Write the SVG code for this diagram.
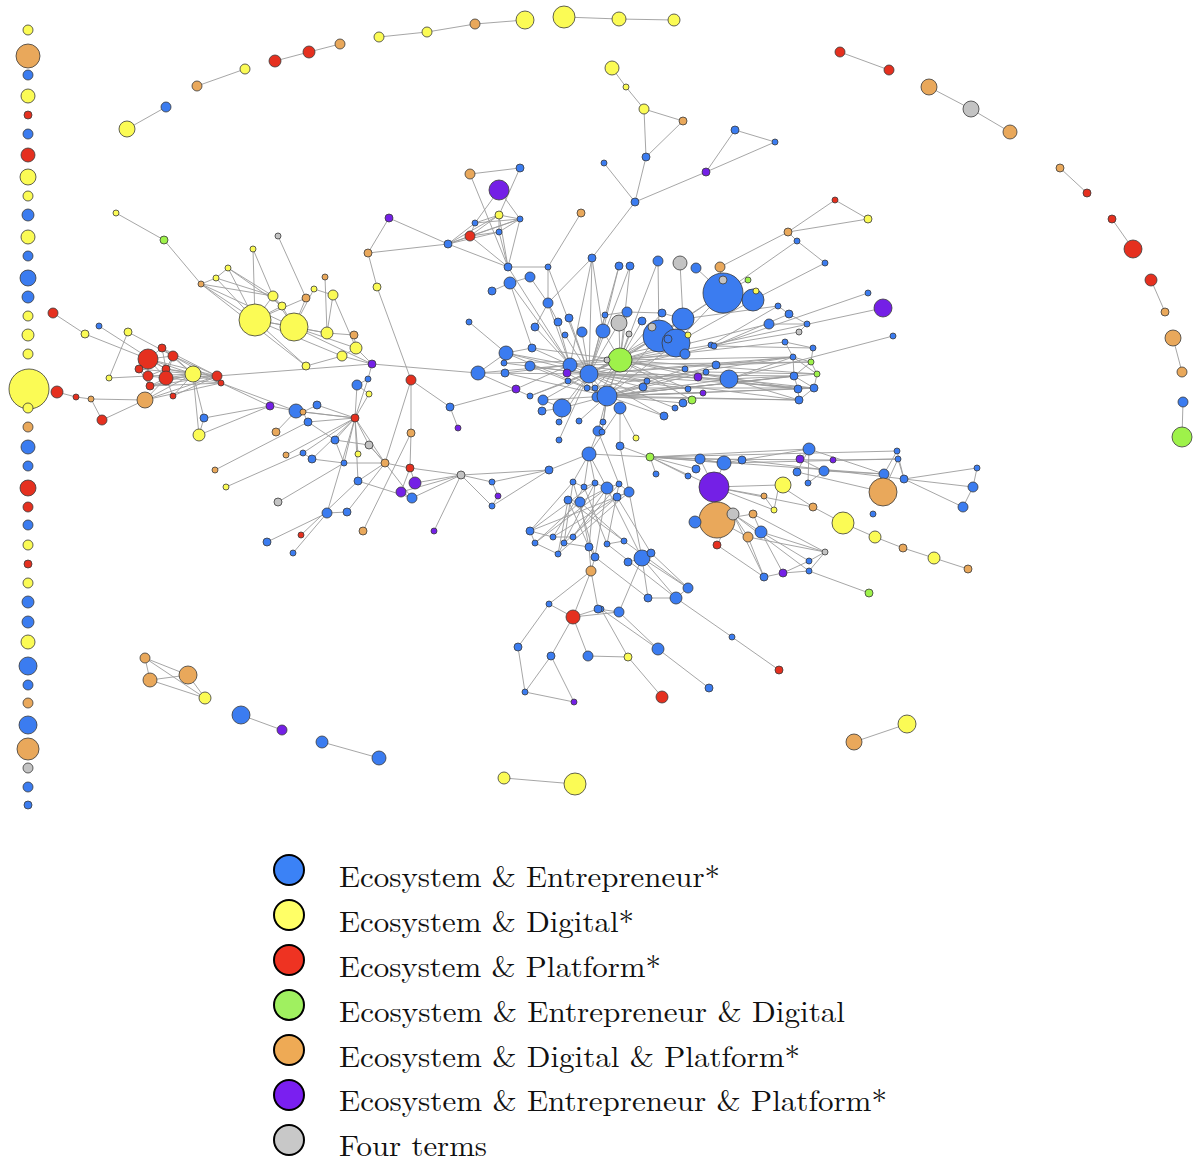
<svg xmlns="http://www.w3.org/2000/svg" width="1198" height="1163" viewBox="0 0 1198 1163">
<style>
  .bg { fill: #ffffff; }
  #connectors path { stroke: #9c9c9c; stroke-width: 0.9; fill: none; }
  #nodes circle { stroke: #3a3a3a; stroke-width: 0.8; }
  .b circle { fill: #3b7cf0; }
  .y circle { fill: #fbfb55; }
  .r circle { fill: #e5301f; }
  .g circle { fill: #9ef24a; }
  .o circle { fill: #e9a85b; }
  .p circle { fill: #7420e6; }
  .a circle { fill: #c3c3c3; }
  #legend circle { stroke: #000; stroke-width: 2; }
  #legend text { font-family: "Latin Modern Roman", "Liberation Serif", "DejaVu Serif", serif; font-size: 29px; fill: #111; }
</style>
<rect class="bg" x="0" y="0" width="1198" height="1163"/>

<g id="connectors">
  <!-- outer ring pairs and chains -->
  <path d="M127 129L166 107"/><path d="M197 86L245 69"/><path d="M275 61L309 52"/><path d="M309 52L340 44"/>
  <path d="M379 37L427 32"/><path d="M427 32L475 24"/><path d="M475 24L525 20"/><path d="M564 17L619 19"/><path d="M619 19L674 20"/>
  <path d="M840 52L889 70"/><path d="M929 87L971 109"/><path d="M971 109L1010 132"/><path d="M1060 168L1087 193"/>
  <path d="M1112 219L1133 249"/><path d="M1151 280L1165 312"/><path d="M1173 338L1182 372"/><path d="M1183 402L1182 437"/>
  <path d="M903 548L934 558"/><path d="M934 558L968 569"/><path d="M854 742L907 724"/>
  <path d="M145 658L188 675"/><path d="M145 658L205 698"/><path d="M150 680L188 675"/><path d="M150 680L205 698"/><path d="M145 658L150 680"/><path d="M188 675L205 698"/>
  <path d="M241 715L282 730"/><path d="M322 742L379 758"/><path d="M504 778L575 784"/>
  <!-- top tree -->
  <path d="M612 68L626 87"/><path d="M626 87L644 109"/><path d="M644 109L683 121"/><path d="M644 109L646 157"/><path d="M683 121L646 157"/>
  <path d="M646 157L635 202"/><path d="M604 163L635 202"/><path d="M735 130L775 142"/><path d="M735 130L706 172"/><path d="M775 142L706 172"/>
  <path d="M706 172L635 202"/><path d="M635 202L592 258"/>
  <path d="M835 200L868 219"/><path d="M835 200L788 232"/><path d="M868 219L788 232"/><path d="M788 232L797 241"/><path d="M797 241L825 263"/>
  <path d="M797 241L723 293"/><path d="M825 263L753 300"/><path d="M788 232L720 267"/>
  <!-- top-middle cluster -->
  <path d="M470 174L520 168"/><path d="M470 174L508 267"/><path d="M520 168L499 215"/><path d="M499 190L520 219"/><path d="M499 190L475 223"/>
  <path d="M499 215L475 223"/><path d="M499 215L520 219"/><path d="M499 215L470 236"/><path d="M499 215L499 232"/><path d="M475 223L520 219"/>
  <path d="M475 223L470 236"/><path d="M470 236L520 219"/><path d="M470 236L499 232"/><path d="M499 232L520 219"/><path d="M448 244L475 223"/>
  <path d="M448 244L499 215"/><path d="M448 244L520 219"/><path d="M448 244L470 236"/><path d="M448 244L499 232"/><path d="M448 244L508 267"/>
  <path d="M520 219L508 267"/><path d="M470 236L508 267"/><path d="M499 232L508 267"/><path d="M499 215L508 267"/>
  <path d="M389 218L448 244"/><path d="M389 218L368 253"/><path d="M368 253L448 244"/><path d="M368 253L377 287"/><path d="M377 287L411 380"/>
  <path d="M508 267L548 267"/><path d="M581 213L548 267"/>
  <!-- upper centre row -->
  <path d="M592 258L589 374"/><path d="M592 258L570 365"/><path d="M592 258L603 331"/><path d="M592 258L548 303"/><path d="M619 266L603 331"/>
  <path d="M630 266L620 360"/><path d="M658 261L620 360"/><path d="M658 261L659 336"/><path d="M680 263L683 319"/><path d="M696 268L723 293"/>
  <path d="M720 267L723 293"/><path d="M723 293L683 319"/><path d="M723 293L659 336"/><path d="M723 293L676 343"/><path d="M723 293L753 300"/>
  <path d="M753 300L676 343"/><path d="M748 280L723 293"/><path d="M630 266L589 374"/><path d="M619 266L589 374"/><path d="M548 267L589 374"/>
  <path d="M508 267L570 365"/><path d="M548 267L548 303"/>
  <!-- left-top yellow cluster -->
  <path d="M116 213L164 240"/><path d="M164 240L201 284"/><path d="M253 249L273 296"/><path d="M278 236L306 298"/><path d="M253 249L255 320"/>
  <path d="M201 284L216 278"/><path d="M216 278L228 268"/><path d="M201 284L255 320"/><path d="M201 284L273 296"/><path d="M201 284L294 327"/>
  <path d="M216 278L273 296"/><path d="M216 278L255 320"/><path d="M228 268L273 296"/><path d="M228 268L255 320"/><path d="M273 296L282 306"/>
  <path d="M273 296L255 320"/><path d="M282 306L255 320"/><path d="M282 306L294 327"/><path d="M255 320L294 327"/><path d="M255 320L327 333"/>
  <path d="M294 327L327 333"/><path d="M306 298L294 327"/><path d="M314 289L294 327"/><path d="M325 277L327 333"/><path d="M333 295L327 333"/>
  <path d="M333 295L356 348"/><path d="M327 333L354 335"/><path d="M354 335L356 348"/><path d="M356 348L342 356"/><path d="M342 356L306 366"/>
  <path d="M306 366L255 320"/><path d="M294 327L356 348"/><path d="M294 327L372 364"/><path d="M356 348L372 364"/><path d="M342 356L372 364"/>
  <path d="M255 320L342 356"/><path d="M228 268L282 306"/><path d="M201 284L306 366"/><path d="M273 296L294 327"/><path d="M306 298L255 320"/>
  <path d="M314 289L333 295"/>
  <!-- red cluster -->
  <path d="M148 359L162 348"/><path d="M148 359L173 356"/><path d="M148 359L139 369"/><path d="M148 359L148 376"/><path d="M148 359L166 369"/>
  <path d="M148 359L166 378"/><path d="M148 359L193 374"/><path d="M148 359L217 376"/><path d="M162 348L173 356"/><path d="M162 348L166 369"/>
  <path d="M162 348L193 374"/><path d="M162 348L217 376"/><path d="M173 356L166 369"/><path d="M173 356L166 378"/><path d="M173 356L193 374"/>
  <path d="M173 356L217 376"/><path d="M173 356L221 383"/><path d="M139 369L148 376"/><path d="M139 369L150 386"/><path d="M148 376L166 369"/>
  <path d="M148 376L166 378"/><path d="M148 376L150 386"/><path d="M148 376L193 374"/><path d="M166 369L166 378"/><path d="M166 369L193 374"/>
  <path d="M166 369L217 376"/><path d="M166 378L150 386"/><path d="M166 378L193 374"/><path d="M166 378L217 376"/><path d="M166 378L221 383"/>
  <path d="M150 386L193 374"/><path d="M150 386L217 376"/><path d="M173 396L193 374"/><path d="M173 396L217 376"/><path d="M173 396L166 378"/>
  <path d="M145 400L193 374"/><path d="M145 400L217 376"/><path d="M145 400L221 383"/><path d="M145 400L166 378"/><path d="M193 374L217 376"/>
  <path d="M193 374L221 383"/><path d="M139 369L193 374"/><path d="M150 386L221 383"/>
  <path d="M53 313L85 334"/><path d="M85 334L148 359"/><path d="M99 326L166 369"/><path d="M128 332L173 356"/><path d="M128 332L109 378"/>
  <path d="M109 378L148 376"/><path d="M57 392L76 397"/><path d="M76 397L91 399"/><path d="M91 399L145 400"/><path d="M91 399L102 420"/>
  <path d="M102 420L145 400"/><path d="M193 374L204 418"/><path d="M193 374L199 435"/><path d="M204 418L199 435"/><path d="M204 418L270 406"/>
  <path d="M199 435L270 406"/><path d="M221 383L270 406"/><path d="M217 376L372 364"/><path d="M221 383L296 411"/>
  <!-- lower-left branch -->
  <path d="M270 406L296 411"/><path d="M296 411L355 418"/><path d="M276 432L296 411"/><path d="M286 455L355 418"/><path d="M215 470L308 422"/>
  <path d="M226 487L303 453"/><path d="M278 502L344 463"/><path d="M355 418L317 405"/><path d="M355 418L303 412"/><path d="M355 418L308 422"/>
  <path d="M355 418L335 440"/><path d="M355 418L369 445"/><path d="M355 418L358 454"/><path d="M355 418L344 463"/><path d="M355 418L312 459"/>
  <path d="M355 418L303 453"/><path d="M355 418L357 385"/><path d="M355 418L368 379"/><path d="M355 418L369 394"/><path d="M355 418L385 463"/>
  <path d="M355 418L327 513"/><path d="M355 418L358 481"/><path d="M317 405L303 412"/><path d="M303 412L308 422"/><path d="M308 422L335 440"/>
  <path d="M335 440L369 445"/><path d="M369 445L385 463"/><path d="M335 440L344 463"/><path d="M303 453L312 459"/><path d="M312 459L344 463"/>
  <path d="M357 385L368 379"/><path d="M357 385L369 394"/><path d="M368 379L372 364"/><path d="M385 463L410 468"/><path d="M385 463L411 380"/>
  <path d="M385 463L358 481"/><path d="M385 463L344 463"/><path d="M385 463L412 498"/><path d="M385 463L369 445"/><path d="M410 468L461 475"/>
  <path d="M410 468L415 483"/><path d="M410 468L401 492"/><path d="M410 468L411 433"/><path d="M411 433L411 380"/><path d="M411 380L450 407"/>
  <path d="M450 407L458 428"/><path d="M450 407L516 389"/><path d="M516 389L570 365"/><path d="M461 475L549 470"/><path d="M461 475L415 483"/>
  <path d="M461 475L412 498"/><path d="M461 475L434 531"/><path d="M461 475L492 482"/><path d="M461 475L492 506"/><path d="M461 475L401 492"/>
  <path d="M492 482L498 496"/><path d="M498 496L492 506"/><path d="M492 506L549 470"/><path d="M492 482L549 470"/><path d="M549 470L589 454"/>
  <path d="M327 513L347 512"/><path d="M347 512L385 463"/><path d="M363 531L411 433"/><path d="M267 542L327 513"/><path d="M293 553L327 513"/>
  <path d="M301 535L358 481"/><path d="M358 481L412 498"/><path d="M412 498L401 492"/><path d="M372 364L478 373"/>
  <!-- centre, left side -->
  <path d="M469 322L506 353"/><path d="M492 291L510 283"/><path d="M510 283L530 277"/><path d="M510 283L570 365"/><path d="M530 277L548 303"/>
  <path d="M548 303L570 365"/><path d="M535 327L570 365"/><path d="M558 322L570 365"/><path d="M569 318L589 374"/><path d="M565 335L589 374"/>
  <path d="M582 332L589 374"/><path d="M603 331L589 374"/><path d="M532 348L570 365"/><path d="M506 353L570 365"/><path d="M506 353L589 374"/>
  <path d="M504 363L589 374"/><path d="M530 366L589 374"/><path d="M478 373L589 374"/><path d="M478 373L570 365"/><path d="M505 373L570 365"/>
  <path d="M478 373L506 353"/><path d="M530 396L589 374"/><path d="M543 400L589 374"/><path d="M562 408L589 374"/><path d="M562 408L607 396"/>
  <path d="M542 411L562 408"/><path d="M559 422L589 374"/><path d="M579 421L607 396"/><path d="M598 431L607 396"/><path d="M559 440L589 374"/>
  <path d="M598 431L589 454"/><path d="M589 454L620 408"/><path d="M535 327L548 303"/><path d="M558 322L548 303"/><path d="M510 283L532 348"/>
  <path d="M532 348L506 353"/><path d="M478 373L530 396"/><path d="M543 400L562 408"/><path d="M506 353L607 396"/><path d="M530 366L607 396"/>
  <path d="M504 363L620 360"/><path d="M532 348L620 360"/><path d="M505 373L607 396"/><path d="M543 400L607 396"/><path d="M530 396L620 360"/>
  <!-- centre hub -->
  <path d="M570 365L589 374"/><path d="M589 374L607 396"/><path d="M589 374L620 360"/><path d="M570 365L620 360"/><path d="M607 396L620 360"/>
  <path d="M597 397L589 374"/><path d="M597 397L620 360"/><path d="M595 388L620 360"/><path d="M587 388L607 396"/><path d="M567 373L607 396"/>
  <path d="M568 381L620 360"/><path d="M603 331L620 360"/><path d="M627 312L620 360"/><path d="M605 315L589 374"/><path d="M619 323L589 374"/>
  <path d="M619 323L620 360"/><path d="M629 334L607 396"/><path d="M642 321L620 360"/><path d="M662 313L620 360"/><path d="M683 319L620 360"/>
  <path d="M659 336L620 360"/><path d="M659 336L589 374"/><path d="M676 343L607 396"/><path d="M676 343L620 360"/><path d="M683 319L659 336"/>
  <path d="M683 319L676 343"/><path d="M659 336L676 343"/><path d="M685 354L620 360"/><path d="M711 345L620 360"/><path d="M714 346L589 374"/>
  <path d="M729 379L620 360"/><path d="M729 379L607 396"/><path d="M716 365L589 374"/><path d="M706 372L607 396"/><path d="M698 377L620 360"/>
  <path d="M703 393L607 396"/><path d="M688 389L589 374"/><path d="M685 369L607 396"/><path d="M692 400L620 360"/><path d="M683 403L607 396"/>
  <path d="M675 408L589 374"/><path d="M664 416L607 396"/><path d="M643 387L589 374"/><path d="M647 381L570 365"/><path d="M620 408L607 396"/>
  <path d="M603 422L607 396"/><path d="M602 432L607 396"/><path d="M636 438L620 408"/><path d="M620 408L620 446"/><path d="M620 446L650 457"/>
  <path d="M627 312L662 313"/><path d="M605 315L627 312"/><path d="M683 319L662 313"/><path d="M683 319L589 374"/><path d="M676 343L570 365"/>
  <path d="M659 336L607 396"/><path d="M729 379L589 374"/><path d="M716 365L607 396"/><path d="M688 389L620 360"/><path d="M664 416L589 374"/>
  <!-- fan to the right-hand group -->
  <path d="M589 374L793 357"/><path d="M589 374L794 376"/><path d="M589 374L799 400"/><path d="M589 374L814 388"/><path d="M607 396L794 376"/>
  <path d="M607 396L798 389"/><path d="M607 396L814 388"/><path d="M607 396L799 400"/><path d="M570 365L811 362"/><path d="M570 365L798 389"/>
  <path d="M620 360L817 374"/><path d="M620 360L793 357"/><path d="M620 360L798 389"/><path d="M597 397L794 376"/><path d="M597 397L817 374"/>
  <path d="M597 397L799 400"/><path d="M587 388L814 388"/><path d="M587 388L793 357"/><path d="M729 379L794 376"/><path d="M729 379L799 400"/>
  <path d="M729 379L814 388"/><path d="M729 379L793 357"/><path d="M716 365L793 357"/><path d="M716 365L811 362"/><path d="M698 377L798 389"/>
  <path d="M706 372L817 374"/>
  <path d="M793 357L811 362"/><path d="M793 357L794 376"/><path d="M811 362L817 374"/><path d="M794 376L798 389"/><path d="M798 389L799 400"/>
  <path d="M814 388L799 400"/><path d="M794 376L814 388"/><path d="M811 362L794 376"/><path d="M817 374L814 388"/><path d="M793 357L817 374"/>
  <path d="M798 389L814 388"/><path d="M813 348L811 362"/><path d="M785 342L813 348"/><path d="M785 342L793 357"/>
  <path d="M714 346L868 293"/><path d="M711 345L883 308"/><path d="M729 379L893 336"/><path d="M711 345L778 306"/><path d="M714 346L789 314"/>
  <path d="M789 314L807 324"/><path d="M778 306L789 314"/><path d="M769 324L620 360"/><path d="M769 324L807 324"/><path d="M620 360L785 342"/>
  <path d="M683 319L778 306"/><path d="M799 332L807 324"/><path d="M799 332L714 346"/><path d="M813 348L714 346"/>
  <!-- lower right -->
  <path d="M589 454L650 457"/><path d="M650 457L700 459"/><path d="M650 457L724 463"/><path d="M650 457L742 460"/><path d="M650 457L809 449"/>
  <path d="M650 457L884 474"/><path d="M650 457L656 474"/><path d="M650 457L897 451"/><path d="M724 463L898 459"/><path d="M742 460L904 479"/>
  <path d="M700 459L833 460"/><path d="M809 449L884 474"/><path d="M797 472L883 492"/><path d="M824 471L884 474"/><path d="M800 459L824 471"/>
  <path d="M809 449L797 472"/><path d="M809 449L808 483"/><path d="M884 474L897 451"/><path d="M883 492L898 459"/><path d="M809 449L800 459"/>
  <path d="M696 469L650 457"/><path d="M688 476L650 457"/><path d="M724 463L742 460"/><path d="M700 459L724 463"/><path d="M833 460L898 459"/>
  <path d="M808 483L824 471"/><path d="M742 460L809 449"/><path d="M904 479L977 468"/><path d="M904 479L973 487"/><path d="M904 479L963 507"/>
  <path d="M973 487L963 507"/><path d="M977 468L973 487"/><path d="M898 459L904 479"/><path d="M897 451L904 479"/>
  <path d="M714 487L650 457"/><path d="M714 487L700 459"/><path d="M714 487L724 463"/><path d="M714 487L779 485"/><path d="M714 487L764 496"/>
  <path d="M714 487L774 510"/><path d="M714 487L813 507"/><path d="M714 487L717 520"/><path d="M717 520L733 514"/><path d="M717 520L695 522"/>
  <path d="M717 520L753 514"/><path d="M733 514L761 532"/><path d="M733 514L748 537"/><path d="M753 514L761 532"/><path d="M748 537L764 577"/>
  <path d="M761 532L783 573"/><path d="M761 532L809 561"/><path d="M748 537L825 552"/><path d="M733 514L809 571"/><path d="M764 577L783 573"/>
  <path d="M783 573L809 561"/><path d="M783 573L809 571"/><path d="M809 561L825 552"/><path d="M809 571L825 552"/><path d="M809 571L869 593"/>
  <path d="M779 485L774 510"/><path d="M764 496L774 510"/><path d="M813 507L843 523"/><path d="M843 523L875 537"/><path d="M875 537L903 548"/>
  <path d="M717 545L733 514"/><path d="M717 545L764 577"/><path d="M779 485L813 507"/><path d="M717 520L748 537"/><path d="M761 532L825 552"/>
  <path d="M753 514L825 552"/><path d="M733 514L764 577"/>
  <!-- lower cluster -->
  <path d="M589 454L573 482"/><path d="M589 454L595 483"/><path d="M589 454L607 488"/><path d="M589 454L584 487"/><path d="M598 431L619 484"/>
  <path d="M620 446L629 492"/>
  <path d="M573 482L530 531"/><path d="M573 482L564 543"/><path d="M573 482L595 557"/><path d="M580 502L535 543"/><path d="M580 502L589 547"/>
  <path d="M580 502L624 541"/><path d="M584 487L553 537"/><path d="M584 487L607 544"/><path d="M595 483L530 531"/><path d="M595 483L558 554"/>
  <path d="M595 483L589 547"/><path d="M607 488L535 543"/><path d="M607 488L573 537"/><path d="M607 488L595 557"/><path d="M617 497L553 537"/>
  <path d="M617 497L564 543"/><path d="M629 492L558 554"/><path d="M629 492L530 531"/><path d="M619 484L573 537"/><path d="M619 484L607 544"/>
  <path d="M568 500L589 547"/><path d="M568 500L624 541"/><path d="M568 500L558 554"/><path d="M607 488L642 558"/><path d="M629 492L642 558"/>
  <path d="M617 497L651 553"/><path d="M573 482L584 487"/><path d="M584 487L595 483"/><path d="M595 483L607 488"/><path d="M607 488L619 484"/>
  <path d="M619 484L629 492"/><path d="M580 502L568 500"/><path d="M580 502L607 488"/><path d="M617 497L629 492"/><path d="M530 531L535 543"/>
  <path d="M535 543L558 554"/><path d="M553 537L573 537"/><path d="M564 543L589 547"/><path d="M589 547L595 557"/><path d="M607 544L624 541"/>
  <path d="M530 531L553 537"/>
  <path d="M642 558L651 553"/><path d="M642 558L688 588"/><path d="M642 558L676 598"/><path d="M642 558L648 598"/><path d="M651 553L688 588"/>
  <path d="M628 562L642 558"/><path d="M648 598L676 598"/><path d="M676 598L688 588"/><path d="M607 544L676 598"/><path d="M624 541L688 588"/>
  <path d="M595 557L648 598"/><path d="M591 571L595 557"/><path d="M591 571L549 604"/><path d="M591 571L573 617"/><path d="M591 571L598 609"/>
  <path d="M591 571L589 547"/><path d="M549 604L573 617"/><path d="M549 604L518 647"/><path d="M573 617L551 656"/><path d="M573 617L588 656"/>
  <path d="M573 617L598 609"/><path d="M598 609L619 612"/><path d="M551 656L525 692"/><path d="M551 656L574 702"/><path d="M525 692L574 702"/>
  <path d="M518 647L525 692"/><path d="M619 612L658 649"/><path d="M601 609L658 649"/><path d="M658 649L709 688"/><path d="M628 657L662 697"/>
  <path d="M588 656L628 657"/><path d="M676 598L732 637"/><path d="M732 637L779 670"/><path d="M619 612L642 558"/><path d="M601 609L628 657"/>
  <path d="M573 617L619 612"/>
</g>

<g id="nodes">
  <!-- left column of isolated terms -->
  <g id="n1" class="y"><circle cx="28" cy="30" r="5"/></g>
  <g id="n2" class="o"><circle cx="28" cy="56" r="12"/></g>
  <g id="n3" class="b"><circle cx="28" cy="75" r="5"/></g>
  <g id="n4" class="y"><circle cx="28" cy="96" r="7"/></g>
  <g id="n5" class="r"><circle cx="28" cy="115" r="4"/></g>
  <g id="n6" class="b"><circle cx="28" cy="134" r="5"/></g>
  <g id="n7" class="r"><circle cx="28" cy="155" r="7"/></g>
  <g id="n8" class="y"><circle cx="28" cy="177" r="8"/></g>
  <g id="n9" class="y"><circle cx="28" cy="196" r="5"/></g>
  <g id="n10" class="b"><circle cx="28" cy="215" r="6"/></g>
  <g id="n11" class="y"><circle cx="28" cy="237" r="7"/></g>
  <g id="n12" class="b"><circle cx="28" cy="256" r="5"/></g>
  <g id="n13" class="b"><circle cx="28" cy="278" r="8"/></g>
  <g id="n14" class="b"><circle cx="28" cy="297" r="6"/></g>
  <g id="n15" class="y"><circle cx="28" cy="316" r="5"/></g>
  <g id="n16" class="y"><circle cx="28" cy="335" r="6"/></g>
  <g id="n17" class="y"><circle cx="28" cy="354" r="5"/></g>
  <g id="n18" class="y"><circle cx="29" cy="389" r="20"/></g>
  <g id="n19" class="y"><circle cx="28" cy="408" r="5"/></g>
  <g id="n20" class="o"><circle cx="28" cy="427" r="5"/></g>
  <g id="n21" class="b"><circle cx="28" cy="447" r="7"/></g>
  <g id="n22" class="b"><circle cx="28" cy="466" r="5"/></g>
  <g id="n23" class="r"><circle cx="28" cy="488" r="8"/></g>
  <g id="n24" class="r"><circle cx="28" cy="507" r="5"/></g>
  <g id="n25" class="b"><circle cx="28" cy="525" r="5"/></g>
  <g id="n26" class="y"><circle cx="28" cy="545" r="5"/></g>
  <g id="n27" class="r"><circle cx="28" cy="564" r="4"/></g>
  <g id="n28" class="y"><circle cx="28" cy="583" r="5"/></g>
  <g id="n29" class="b"><circle cx="28" cy="602" r="6"/></g>
  <g id="n30" class="b"><circle cx="28" cy="622" r="6"/></g>
  <g id="n31" class="y"><circle cx="28" cy="642" r="7"/></g>
  <g id="n32" class="b"><circle cx="28" cy="666" r="9"/></g>
  <g id="n33" class="b"><circle cx="28" cy="685" r="5"/></g>
  <g id="n34" class="o"><circle cx="28" cy="703" r="5"/></g>
  <g id="n35" class="b"><circle cx="28" cy="725" r="9"/></g>
  <g id="n36" class="o"><circle cx="28" cy="749" r="11"/></g>
  <g id="n37" class="a"><circle cx="28" cy="768" r="5"/></g>
  <g id="n38" class="b"><circle cx="28" cy="787" r="5"/></g>
  <g id="n39" class="b"><circle cx="28" cy="805" r="4"/></g>
  <!-- outer ring -->
  <g id="n40" class="y"><circle cx="127" cy="129" r="8"/></g>
  <g id="n41" class="b"><circle cx="166" cy="107" r="5"/></g>
  <g id="n42" class="o"><circle cx="197" cy="86" r="5"/></g>
  <g id="n43" class="y"><circle cx="245" cy="69" r="5"/></g>
  <g id="n44" class="r"><circle cx="275" cy="61" r="6"/></g>
  <g id="n45" class="r"><circle cx="309" cy="52" r="6"/></g>
  <g id="n46" class="o"><circle cx="340" cy="44" r="5"/></g>
  <g id="n47" class="y"><circle cx="379" cy="37" r="5"/></g>
  <g id="n48" class="y"><circle cx="427" cy="32" r="5"/></g>
  <g id="n49" class="o"><circle cx="475" cy="24" r="5"/></g>
  <g id="n50" class="y"><circle cx="525" cy="20" r="9"/></g>
  <g id="n51" class="y"><circle cx="564" cy="17" r="11"/></g>
  <g id="n52" class="y"><circle cx="619" cy="19" r="7"/></g>
  <g id="n53" class="y"><circle cx="674" cy="20" r="6"/></g>
  <g id="n54" class="r"><circle cx="840" cy="52" r="5"/></g>
  <g id="n55" class="r"><circle cx="889" cy="70" r="5"/></g>
  <g id="n56" class="o"><circle cx="929" cy="87" r="8"/></g>
  <g id="n57" class="a"><circle cx="971" cy="109" r="8"/></g>
  <g id="n58" class="o"><circle cx="1010" cy="132" r="7"/></g>
  <g id="n59" class="o"><circle cx="1060" cy="168" r="4"/></g>
  <g id="n60" class="r"><circle cx="1087" cy="193" r="4"/></g>
  <g id="n61" class="r"><circle cx="1112" cy="219" r="4"/></g>
  <g id="n62" class="r"><circle cx="1133" cy="249" r="9"/></g>
  <g id="n63" class="r"><circle cx="1151" cy="280" r="6"/></g>
  <g id="n64" class="o"><circle cx="1165" cy="312" r="4"/></g>
  <g id="n65" class="o"><circle cx="1173" cy="338" r="8"/></g>
  <g id="n66" class="o"><circle cx="1182" cy="372" r="5"/></g>
  <g id="n67" class="b"><circle cx="1183" cy="402" r="5"/></g>
  <g id="n68" class="g"><circle cx="1182" cy="437" r="10"/></g>
  <g id="n69" class="o"><circle cx="903" cy="548" r="4"/></g>
  <g id="n70" class="y"><circle cx="934" cy="558" r="6"/></g>
  <g id="n71" class="o"><circle cx="968" cy="569" r="4"/></g>
  <g id="n72" class="o"><circle cx="854" cy="742" r="8"/></g>
  <g id="n73" class="y"><circle cx="907" cy="724" r="9"/></g>
  <g id="n74" class="o"><circle cx="145" cy="658" r="5"/></g>
  <g id="n75" class="o"><circle cx="150" cy="680" r="7"/></g>
  <g id="n76" class="o"><circle cx="188" cy="675" r="9"/></g>
  <g id="n77" class="y"><circle cx="205" cy="698" r="6"/></g>
  <g id="n78" class="b"><circle cx="241" cy="715" r="9"/></g>
  <g id="n79" class="p"><circle cx="282" cy="730" r="5"/></g>
  <g id="n80" class="b"><circle cx="322" cy="742" r="6"/></g>
  <g id="n81" class="b"><circle cx="379" cy="758" r="7"/></g>
  <g id="n82" class="y"><circle cx="504" cy="778" r="6"/></g>
  <g id="n83" class="y"><circle cx="575" cy="784" r="11"/></g>
  <!-- top tree -->
  <g id="n84" class="y"><circle cx="612" cy="68" r="7"/></g>
  <g id="n85" class="y"><circle cx="626" cy="87" r="3"/></g>
  <g id="n86" class="y"><circle cx="644" cy="109" r="5"/></g>
  <g id="n87" class="o"><circle cx="683" cy="121" r="4"/></g>
  <g id="n88" class="b"><circle cx="646" cy="157" r="4"/></g>
  <g id="n89" class="b"><circle cx="604" cy="163" r="3"/></g>
  <g id="n90" class="b"><circle cx="635" cy="202" r="4"/></g>
  <g id="n91" class="b"><circle cx="735" cy="130" r="4"/></g>
  <g id="n92" class="b"><circle cx="775" cy="142" r="3"/></g>
  <g id="n93" class="p"><circle cx="706" cy="172" r="4"/></g>
  <g id="n94" class="r"><circle cx="835" cy="200" r="3"/></g>
  <g id="n95" class="y"><circle cx="868" cy="219" r="4"/></g>
  <g id="n96" class="o"><circle cx="788" cy="232" r="4"/></g>
  <g id="n97" class="b"><circle cx="797" cy="241" r="3"/></g>
  <g id="n98" class="b"><circle cx="825" cy="263" r="3"/></g>
  <!-- top-middle cluster -->
  <g id="n99" class="o"><circle cx="470" cy="174" r="5"/></g>
  <g id="n100" class="b"><circle cx="520" cy="168" r="4"/></g>
  <g id="n101" class="p"><circle cx="499" cy="190" r="10"/></g>
  <g id="n102" class="y"><circle cx="499" cy="215" r="4"/></g>
  <g id="n103" class="b"><circle cx="475" cy="223" r="3"/></g>
  <g id="n104" class="b"><circle cx="520" cy="219" r="3"/></g>
  <g id="n105" class="b"><circle cx="499" cy="232" r="3"/></g>
  <g id="n106" class="r"><circle cx="470" cy="236" r="5"/></g>
  <g id="n107" class="b"><circle cx="448" cy="244" r="4"/></g>
  <g id="n108" class="p"><circle cx="389" cy="218" r="4"/></g>
  <g id="n109" class="o"><circle cx="368" cy="253" r="4"/></g>
  <g id="n110" class="y"><circle cx="377" cy="287" r="4"/></g>
  <g id="n111" class="b"><circle cx="508" cy="267" r="4"/></g>
  <g id="n112" class="b"><circle cx="548" cy="267" r="3"/></g>
  <g id="n113" class="o"><circle cx="581" cy="213" r="4"/></g>
  <g id="n114" class="b"><circle cx="592" cy="258" r="4"/></g>
  <!-- upper centre row -->
  <g id="n115" class="b"><circle cx="619" cy="266" r="4"/></g>
  <g id="n116" class="b"><circle cx="630" cy="266" r="4"/></g>
  <g id="n117" class="b"><circle cx="658" cy="261" r="5"/></g>
  <g id="n118" class="a"><circle cx="680" cy="263" r="7"/></g>
  <g id="n119" class="b"><circle cx="696" cy="268" r="5"/></g>
  <g id="n120" class="o"><circle cx="720" cy="267" r="5"/></g>
  <g id="n121" class="b"><circle cx="723" cy="293" r="20"/></g>
  <g id="n122" class="a"><circle cx="723" cy="280" r="4"/></g>
  <g id="n123" class="b"><circle cx="753" cy="300" r="11"/></g>
  <g id="n124" class="y"><circle cx="756" cy="291" r="3"/></g>
  <g id="n125" class="g"><circle cx="748" cy="280" r="3"/></g>
  <!-- left yellow cluster -->
  <g id="n126" class="y"><circle cx="116" cy="213" r="3"/></g>
  <g id="n127" class="g"><circle cx="164" cy="240" r="4"/></g>
  <g id="n128" class="y"><circle cx="253" cy="249" r="3"/></g>
  <g id="n129" class="a"><circle cx="278" cy="236" r="3"/></g>
  <g id="n130" class="o"><circle cx="201" cy="284" r="3"/></g>
  <g id="n131" class="y"><circle cx="216" cy="278" r="3"/></g>
  <g id="n132" class="y"><circle cx="228" cy="268" r="3"/></g>
  <g id="n133" class="y"><circle cx="273" cy="296" r="5"/></g>
  <g id="n134" class="y"><circle cx="282" cy="306" r="4"/></g>
  <g id="n135" class="y"><circle cx="255" cy="320" r="16"/></g>
  <g id="n136" class="y"><circle cx="294" cy="327" r="14"/></g>
  <g id="n137" class="o"><circle cx="306" cy="298" r="4"/></g>
  <g id="n138" class="y"><circle cx="314" cy="289" r="3"/></g>
  <g id="n139" class="o"><circle cx="325" cy="277" r="3"/></g>
  <g id="n140" class="y"><circle cx="333" cy="295" r="5"/></g>
  <g id="n141" class="y"><circle cx="327" cy="333" r="6"/></g>
  <g id="n142" class="o"><circle cx="354" cy="335" r="4"/></g>
  <g id="n143" class="y"><circle cx="356" cy="348" r="6"/></g>
  <g id="n144" class="y"><circle cx="342" cy="356" r="5"/></g>
  <g id="n145" class="y"><circle cx="306" cy="366" r="4"/></g>
  <g id="n146" class="p"><circle cx="372" cy="364" r="4"/></g>
  <!-- red cluster -->
  <g id="n147" class="r"><circle cx="53" cy="313" r="5"/></g>
  <g id="n148" class="y"><circle cx="85" cy="334" r="4"/></g>
  <g id="n149" class="b"><circle cx="99" cy="326" r="3"/></g>
  <g id="n150" class="y"><circle cx="128" cy="332" r="4"/></g>
  <g id="n151" class="y"><circle cx="109" cy="378" r="3"/></g>
  <g id="n152" class="r"><circle cx="148" cy="359" r="10"/></g>
  <g id="n153" class="r"><circle cx="162" cy="348" r="4"/></g>
  <g id="n154" class="r"><circle cx="173" cy="356" r="5"/></g>
  <g id="n155" class="r"><circle cx="139" cy="369" r="4"/></g>
  <g id="n156" class="r"><circle cx="148" cy="376" r="5"/></g>
  <g id="n157" class="r"><circle cx="166" cy="369" r="4"/></g>
  <g id="n158" class="r"><circle cx="166" cy="378" r="7"/></g>
  <g id="n159" class="r"><circle cx="150" cy="386" r="4"/></g>
  <g id="n160" class="r"><circle cx="173" cy="396" r="3"/></g>
  <g id="n161" class="y"><circle cx="193" cy="374" r="8"/></g>
  <g id="n162" class="r"><circle cx="217" cy="376" r="5"/></g>
  <g id="n163" class="r"><circle cx="221" cy="383" r="3"/></g>
  <g id="n164" class="o"><circle cx="145" cy="400" r="8"/></g>
  <g id="n165" class="r"><circle cx="57" cy="392" r="6"/></g>
  <g id="n166" class="r"><circle cx="76" cy="397" r="3"/></g>
  <g id="n167" class="o"><circle cx="91" cy="399" r="3"/></g>
  <g id="n168" class="r"><circle cx="102" cy="420" r="5"/></g>
  <g id="n169" class="b"><circle cx="204" cy="418" r="4"/></g>
  <g id="n170" class="y"><circle cx="199" cy="435" r="6"/></g>
  <!-- lower-left branch -->
  <g id="n171" class="p"><circle cx="270" cy="406" r="4"/></g>
  <g id="n172" class="b"><circle cx="296" cy="411" r="7"/></g>
  <g id="n173" class="o"><circle cx="276" cy="432" r="4"/></g>
  <g id="n174" class="o"><circle cx="286" cy="455" r="3"/></g>
  <g id="n175" class="o"><circle cx="215" cy="470" r="3"/></g>
  <g id="n176" class="y"><circle cx="226" cy="487" r="3"/></g>
  <g id="n177" class="a"><circle cx="278" cy="502" r="4"/></g>
  <g id="n178" class="b"><circle cx="317" cy="405" r="4"/></g>
  <g id="n179" class="o"><circle cx="303" cy="412" r="3"/></g>
  <g id="n180" class="b"><circle cx="308" cy="422" r="4"/></g>
  <g id="n181" class="r"><circle cx="355" cy="418" r="4"/></g>
  <g id="n182" class="b"><circle cx="357" cy="385" r="5"/></g>
  <g id="n183" class="b"><circle cx="368" cy="379" r="3"/></g>
  <g id="n184" class="y"><circle cx="369" cy="394" r="3"/></g>
  <g id="n185" class="b"><circle cx="335" cy="440" r="4"/></g>
  <g id="n186" class="a"><circle cx="369" cy="445" r="4"/></g>
  <g id="n187" class="y"><circle cx="358" cy="454" r="3"/></g>
  <g id="n188" class="b"><circle cx="344" cy="463" r="3"/></g>
  <g id="n189" class="b"><circle cx="312" cy="459" r="4"/></g>
  <g id="n190" class="b"><circle cx="303" cy="453" r="3"/></g>
  <g id="n191" class="o"><circle cx="385" cy="463" r="4"/></g>
  <g id="n192" class="r"><circle cx="410" cy="468" r="4"/></g>
  <g id="n193" class="o"><circle cx="411" cy="433" r="4"/></g>
  <g id="n194" class="r"><circle cx="411" cy="380" r="5"/></g>
  <g id="n195" class="p"><circle cx="415" cy="483" r="6"/></g>
  <g id="n196" class="p"><circle cx="401" cy="492" r="5"/></g>
  <g id="n197" class="b"><circle cx="412" cy="498" r="5"/></g>
  <g id="n198" class="b"><circle cx="358" cy="481" r="4"/></g>
  <g id="n199" class="a"><circle cx="461" cy="475" r="4"/></g>
  <g id="n200" class="b"><circle cx="492" cy="482" r="3"/></g>
  <g id="n201" class="p"><circle cx="498" cy="496" r="3"/></g>
  <g id="n202" class="b"><circle cx="492" cy="506" r="3"/></g>
  <g id="n203" class="b"><circle cx="549" cy="470" r="4"/></g>
  <g id="n204" class="b"><circle cx="327" cy="513" r="5"/></g>
  <g id="n205" class="b"><circle cx="347" cy="512" r="4"/></g>
  <g id="n206" class="o"><circle cx="363" cy="531" r="4"/></g>
  <g id="n207" class="p"><circle cx="434" cy="531" r="3"/></g>
  <g id="n208" class="b"><circle cx="267" cy="542" r="4"/></g>
  <g id="n209" class="b"><circle cx="293" cy="553" r="3"/></g>
  <g id="n210" class="r"><circle cx="301" cy="535" r="3"/></g>
  <g id="n211" class="b"><circle cx="450" cy="407" r="4"/></g>
  <g id="n212" class="p"><circle cx="458" cy="428" r="3"/></g>
  <g id="n213" class="p"><circle cx="516" cy="389" r="4"/></g>
  <!-- central component -->
  <g id="n214" class="b"><circle cx="478" cy="373" r="7"/></g>
  <g id="n215" class="b"><circle cx="469" cy="322" r="3"/></g>
  <g id="n216" class="b"><circle cx="506" cy="353" r="7"/></g>
  <g id="n217" class="b"><circle cx="510" cy="283" r="6"/></g>
  <g id="n218" class="b"><circle cx="530" cy="277" r="5"/></g>
  <g id="n219" class="b"><circle cx="492" cy="291" r="4"/></g>
  <g id="n220" class="b"><circle cx="548" cy="303" r="5"/></g>
  <g id="n221" class="b"><circle cx="535" cy="327" r="4"/></g>
  <g id="n222" class="b"><circle cx="558" cy="322" r="4"/></g>
  <g id="n223" class="b"><circle cx="569" cy="318" r="4"/></g>
  <g id="n224" class="b"><circle cx="565" cy="335" r="3"/></g>
  <g id="n225" class="b"><circle cx="582" cy="332" r="5"/></g>
  <g id="n226" class="b"><circle cx="603" cy="331" r="7"/></g>
  <g id="n227" class="b"><circle cx="532" cy="348" r="4"/></g>
  <g id="n228" class="b"><circle cx="504" cy="363" r="3"/></g>
  <g id="n229" class="b"><circle cx="530" cy="366" r="5"/></g>
  <g id="n230" class="b"><circle cx="570" cy="365" r="7"/></g>
  <g id="n231" class="p"><circle cx="567" cy="373" r="4"/></g>
  <g id="n232" class="b"><circle cx="589" cy="374" r="9"/></g>
  <g id="n233" class="b"><circle cx="568" cy="381" r="3"/></g>
  <g id="n234" class="b"><circle cx="505" cy="373" r="4"/></g>
  <g id="n235" class="b"><circle cx="530" cy="396" r="3"/></g>
  <g id="n236" class="b"><circle cx="543" cy="400" r="5"/></g>
  <g id="n237" class="b"><circle cx="562" cy="408" r="9"/></g>
  <g id="n238" class="b"><circle cx="542" cy="411" r="4"/></g>
  <g id="n239" class="b"><circle cx="559" cy="422" r="3"/></g>
  <g id="n240" class="b"><circle cx="579" cy="421" r="3"/></g>
  <g id="n241" class="b"><circle cx="598" cy="431" r="5"/></g>
  <g id="n242" class="b"><circle cx="559" cy="440" r="3"/></g>
  <g id="n243" class="b"><circle cx="597" cy="397" r="5"/></g>
  <g id="n244" class="b"><circle cx="595" cy="388" r="3"/></g>
  <g id="n245" class="b"><circle cx="587" cy="388" r="3"/></g>
  <g id="n246" class="b"><circle cx="589" cy="454" r="7"/></g>
  <g id="n247" class="b"><circle cx="627" cy="312" r="5"/></g>
  <g id="n248" class="b"><circle cx="605" cy="315" r="3"/></g>
  <g id="n249" class="a"><circle cx="619" cy="323" r="8"/></g>
  <g id="n250" class="a"><circle cx="629" cy="334" r="3"/></g>
  <g id="n251" class="b"><circle cx="642" cy="321" r="4"/></g>
  <g id="n252" class="b"><circle cx="662" cy="313" r="4"/></g>
  <g id="n253" class="b"><circle cx="683" cy="319" r="11"/></g>
  <g id="n254" class="b"><circle cx="659" cy="336" r="16"/></g>
  <g id="n255" class="a"><circle cx="652" cy="327" r="4"/></g>
  <g id="n256" class="b"><circle cx="676" cy="343" r="14"/></g>
  <g id="n257" class="y"><circle cx="688" cy="335" r="3"/></g>
  <g id="n258" class="b"><circle cx="685" cy="354" r="5"/></g>
  <g id="n259" class="b"><circle cx="668" cy="339" r="4"/></g>
  <g id="n260" class="g"><circle cx="620" cy="360" r="12"/></g>
  <g id="n261" class="a"><circle cx="607" cy="360" r="3"/></g>
  <g id="n262" class="b"><circle cx="711" cy="345" r="3"/></g>
  <g id="n263" class="b"><circle cx="714" cy="346" r="3"/></g>
  <g id="n264" class="b"><circle cx="729" cy="379" r="9"/></g>
  <g id="n265" class="b"><circle cx="716" cy="365" r="4"/></g>
  <g id="n266" class="b"><circle cx="706" cy="372" r="3"/></g>
  <g id="n267" class="p"><circle cx="698" cy="377" r="4"/></g>
  <g id="n268" class="p"><circle cx="703" cy="393" r="3"/></g>
  <g id="n269" class="b"><circle cx="688" cy="389" r="3"/></g>
  <g id="n270" class="b"><circle cx="685" cy="369" r="3"/></g>
  <g id="n271" class="g"><circle cx="692" cy="400" r="4"/></g>
  <g id="n272" class="b"><circle cx="683" cy="403" r="4"/></g>
  <g id="n273" class="b"><circle cx="675" cy="408" r="3"/></g>
  <g id="n274" class="b"><circle cx="664" cy="416" r="4"/></g>
  <g id="n275" class="b"><circle cx="643" cy="387" r="4"/></g>
  <g id="n276" class="b"><circle cx="647" cy="381" r="3"/></g>
  <g id="n277" class="b"><circle cx="620" cy="408" r="6"/></g>
  <g id="n278" class="b"><circle cx="607" cy="396" r="10"/></g>
  <g id="n279" class="b"><circle cx="603" cy="422" r="3"/></g>
  <g id="n280" class="b"><circle cx="602" cy="432" r="3"/></g>
  <g id="n281" class="y"><circle cx="636" cy="438" r="3"/></g>
  <g id="n282" class="b"><circle cx="620" cy="446" r="4"/></g>
  <g id="n283" class="g"><circle cx="650" cy="457" r="4"/></g>
  <g id="n284" class="b"><circle cx="656" cy="474" r="3"/></g>
  <g id="n285" class="b"><circle cx="700" cy="459" r="5"/></g>
  <g id="n286" class="b"><circle cx="696" cy="469" r="4"/></g>
  <g id="n287" class="b"><circle cx="688" cy="476" r="3"/></g>
  <g id="n288" class="b"><circle cx="724" cy="463" r="7"/></g>
  <g id="n289" class="b"><circle cx="742" cy="460" r="4"/></g>
  <g id="n290" class="b"><circle cx="809" cy="449" r="6"/></g>
  <g id="n291" class="p"><circle cx="800" cy="459" r="4"/></g>
  <g id="n292" class="b"><circle cx="797" cy="472" r="4"/></g>
  <g id="n293" class="b"><circle cx="808" cy="483" r="3"/></g>
  <g id="n294" class="b"><circle cx="824" cy="471" r="5"/></g>
  <g id="n295" class="p"><circle cx="833" cy="460" r="3"/></g>
  <g id="n296" class="b"><circle cx="884" cy="474" r="5"/></g>
  <g id="n297" class="o"><circle cx="883" cy="492" r="14"/></g>
  <g id="n298" class="b"><circle cx="897" cy="451" r="3"/></g>
  <g id="n299" class="b"><circle cx="898" cy="459" r="3"/></g>
  <g id="n300" class="p"><circle cx="714" cy="487" r="15"/></g>
  <g id="n301" class="y"><circle cx="783" cy="485" r="8"/></g>
  <g id="n302" class="o"><circle cx="764" cy="496" r="3"/></g>
  <g id="n303" class="y"><circle cx="774" cy="510" r="3"/></g>
  <g id="n304" class="o"><circle cx="813" cy="507" r="4"/></g>
  <g id="n305" class="y"><circle cx="843" cy="523" r="11"/></g>
  <g id="n306" class="b"><circle cx="873" cy="514" r="3"/></g>
  <g id="n307" class="y"><circle cx="875" cy="537" r="6"/></g>
  <g id="n308" class="o"><circle cx="717" cy="520" r="18"/></g>
  <g id="n309" class="a"><circle cx="733" cy="514" r="6"/></g>
  <g id="n310" class="b"><circle cx="695" cy="522" r="6"/></g>
  <g id="n311" class="o"><circle cx="753" cy="514" r="4"/></g>
  <g id="n312" class="b"><circle cx="761" cy="532" r="6"/></g>
  <g id="n313" class="o"><circle cx="748" cy="537" r="5"/></g>
  <g id="n314" class="b"><circle cx="868" cy="293" r="3"/></g>
  <g id="n315" class="p"><circle cx="883" cy="308" r="9"/></g>
  <g id="n316" class="b"><circle cx="893" cy="336" r="3"/></g>
  <g id="n317" class="b"><circle cx="778" cy="306" r="3"/></g>
  <g id="n318" class="b"><circle cx="789" cy="314" r="4"/></g>
  <g id="n319" class="b"><circle cx="807" cy="324" r="3"/></g>
  <g id="n320" class="a"><circle cx="799" cy="332" r="3"/></g>
  <g id="n321" class="b"><circle cx="769" cy="324" r="5"/></g>
  <g id="n322" class="b"><circle cx="785" cy="342" r="3"/></g>
  <g id="n323" class="b"><circle cx="813" cy="348" r="3"/></g>
  <g id="n324" class="b"><circle cx="793" cy="357" r="3"/></g>
  <g id="n325" class="g"><circle cx="811" cy="362" r="3"/></g>
  <g id="n326" class="g"><circle cx="817" cy="374" r="3"/></g>
  <g id="n327" class="b"><circle cx="794" cy="376" r="4"/></g>
  <g id="n328" class="b"><circle cx="798" cy="389" r="4"/></g>
  <g id="n329" class="b"><circle cx="814" cy="388" r="4"/></g>
  <g id="n330" class="b"><circle cx="799" cy="400" r="4"/></g>
  <g id="n331" class="b"><circle cx="904" cy="479" r="4"/></g>
  <g id="n332" class="b"><circle cx="977" cy="468" r="3"/></g>
  <g id="n333" class="b"><circle cx="973" cy="487" r="5"/></g>
  <g id="n334" class="b"><circle cx="963" cy="507" r="5"/></g>
  <!-- lower cluster -->
  <g id="n335" class="b"><circle cx="573" cy="482" r="3"/></g>
  <g id="n336" class="b"><circle cx="580" cy="502" r="5"/></g>
  <g id="n337" class="b"><circle cx="584" cy="487" r="3"/></g>
  <g id="n338" class="b"><circle cx="595" cy="483" r="3"/></g>
  <g id="n339" class="b"><circle cx="607" cy="488" r="6"/></g>
  <g id="n340" class="b"><circle cx="617" cy="497" r="4"/></g>
  <g id="n341" class="b"><circle cx="629" cy="492" r="5"/></g>
  <g id="n342" class="b"><circle cx="619" cy="484" r="3"/></g>
  <g id="n343" class="b"><circle cx="568" cy="500" r="4"/></g>
  <g id="n344" class="b"><circle cx="530" cy="531" r="4"/></g>
  <g id="n345" class="b"><circle cx="535" cy="543" r="3"/></g>
  <g id="n346" class="b"><circle cx="564" cy="543" r="3"/></g>
  <g id="n347" class="b"><circle cx="589" cy="547" r="4"/></g>
  <g id="n348" class="b"><circle cx="595" cy="557" r="4"/></g>
  <g id="n349" class="b"><circle cx="558" cy="554" r="3"/></g>
  <g id="n350" class="b"><circle cx="553" cy="537" r="3"/></g>
  <g id="n351" class="b"><circle cx="573" cy="537" r="3"/></g>
  <g id="n352" class="b"><circle cx="607" cy="544" r="3"/></g>
  <g id="n353" class="b"><circle cx="624" cy="541" r="3"/></g>
  <g id="n354" class="b"><circle cx="642" cy="558" r="8"/></g>
  <g id="n355" class="b"><circle cx="651" cy="553" r="4"/></g>
  <g id="n356" class="b"><circle cx="628" cy="562" r="4"/></g>
  <g id="n357" class="b"><circle cx="688" cy="588" r="5"/></g>
  <g id="n358" class="b"><circle cx="676" cy="598" r="6"/></g>
  <g id="n359" class="b"><circle cx="648" cy="598" r="4"/></g>
  <g id="n360" class="b"><circle cx="619" cy="612" r="5"/></g>
  <g id="n361" class="b"><circle cx="601" cy="609" r="3"/></g>
  <g id="n362" class="r"><circle cx="717" cy="545" r="4"/></g>
  <g id="n363" class="b"><circle cx="764" cy="577" r="4"/></g>
  <g id="n364" class="p"><circle cx="783" cy="573" r="4"/></g>
  <g id="n365" class="b"><circle cx="809" cy="561" r="3"/></g>
  <g id="n366" class="b"><circle cx="809" cy="571" r="3"/></g>
  <g id="n367" class="a"><circle cx="825" cy="552" r="3"/></g>
  <g id="n368" class="g"><circle cx="869" cy="593" r="4"/></g>
  <g id="n369" class="o"><circle cx="591" cy="571" r="5"/></g>
  <g id="n370" class="b"><circle cx="549" cy="604" r="3"/></g>
  <g id="n371" class="r"><circle cx="573" cy="617" r="7"/></g>
  <g id="n372" class="b"><circle cx="598" cy="609" r="4"/></g>
  <g id="n373" class="b"><circle cx="518" cy="647" r="4"/></g>
  <g id="n374" class="b"><circle cx="551" cy="656" r="4"/></g>
  <g id="n375" class="b"><circle cx="588" cy="656" r="5"/></g>
  <g id="n376" class="b"><circle cx="525" cy="692" r="3"/></g>
  <g id="n377" class="p"><circle cx="574" cy="702" r="3"/></g>
  <g id="n378" class="b"><circle cx="658" cy="649" r="6"/></g>
  <g id="n379" class="y"><circle cx="628" cy="657" r="4"/></g>
  <g id="n380" class="r"><circle cx="662" cy="697" r="6"/></g>
  <g id="n381" class="b"><circle cx="709" cy="688" r="4"/></g>
  <g id="n382" class="b"><circle cx="732" cy="637" r="3"/></g>
  <g id="n383" class="r"><circle cx="779" cy="670" r="4"/></g>
</g>

<g id="legend">
  <circle cx="289" cy="870" r="15" fill="#3b82f6"/>
  <circle cx="289" cy="915" r="15" fill="#ffff66"/>
  <circle cx="289" cy="960" r="15" fill="#ee3322"/>
  <circle cx="289" cy="1005" r="15" fill="#a0f060"/>
  <circle cx="289" cy="1050" r="15" fill="#eeaa55"/>
  <circle cx="289" cy="1095" r="15" fill="#7a1ff0"/>
  <circle cx="289" cy="1140" r="15" fill="#c8c8c8"/>
  <text x="339" y="887" textLength="381" lengthAdjust="spacingAndGlyphs">Ecosystem &amp; Entrepreneur*</text>
  <text x="339" y="932" textLength="295" lengthAdjust="spacingAndGlyphs">Ecosystem &amp; Digital*</text>
  <text x="339" y="977" textLength="322" lengthAdjust="spacingAndGlyphs">Ecosystem &amp; Platform*</text>
  <text x="339" y="1022" textLength="506" lengthAdjust="spacingAndGlyphs">Ecosystem &amp; Entrepreneur &amp; Digital</text>
  <text x="339" y="1067" textLength="461" lengthAdjust="spacingAndGlyphs">Ecosystem &amp; Digital &amp; Platform*</text>
  <text x="339" y="1111" textLength="548" lengthAdjust="spacingAndGlyphs">Ecosystem &amp; Entrepreneur &amp; Platform*</text>
  <text x="339" y="1156" textLength="148" lengthAdjust="spacingAndGlyphs">Four terms</text>
</g>
</svg>
